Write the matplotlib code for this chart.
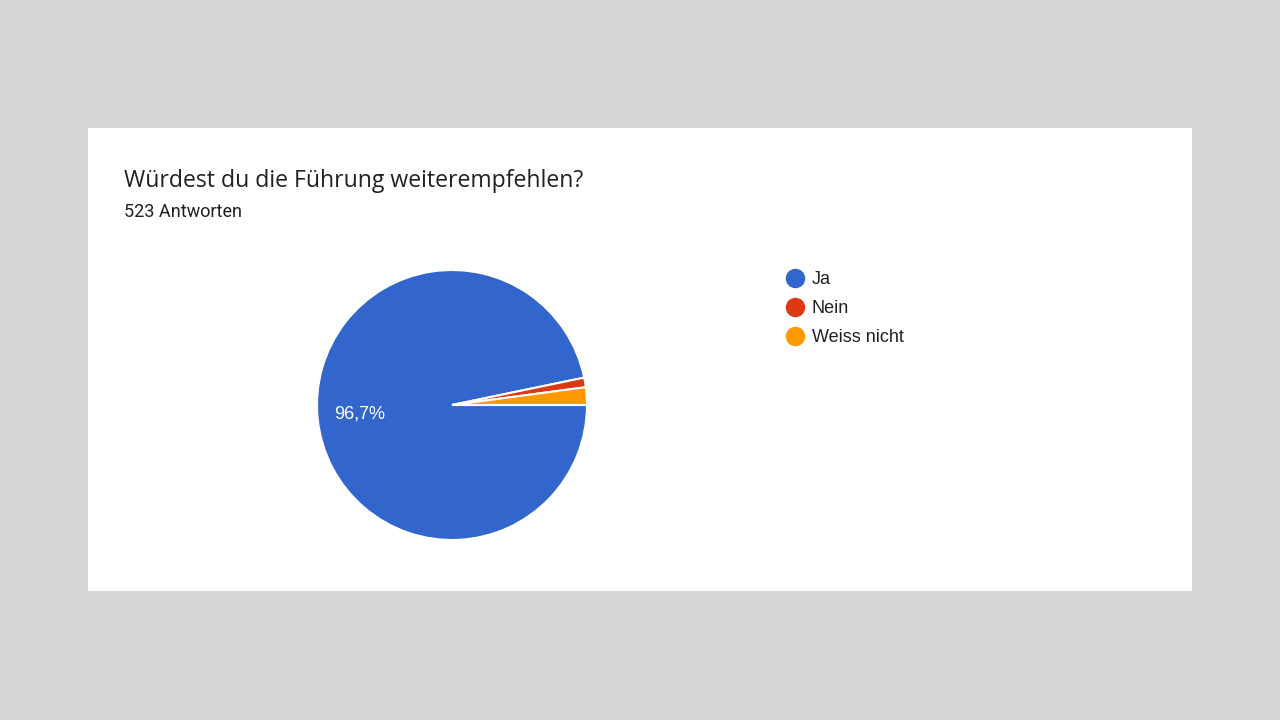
import matplotlib
matplotlib.use("Agg")
import matplotlib.pyplot as plt
from matplotlib.patches import Rectangle
from matplotlib.lines import Line2D

categories = ["Ja", "Nein", "Weiss nicht"]
counts = [506, 6, 11]
colors = ["#3366cc", "#dc3912", "#ff9900"]
title = "Würdest du die Führung weiterempfehlen?"
subtitle = "523 Antworten"

W, H = 1280, 720
fig = plt.figure(figsize=(W / 100, H / 100), dpi=100, facecolor="#d6d6d6")
plt.rcParams["font.family"] = ["Roboto", "DejaVu Sans"]

# white card
fig.patches.append(Rectangle((88 / W, 1 - 591 / H), (1192 - 88) / W, (591 - 128) / H,
                             transform=fig.transFigure, facecolor="white", edgecolor="none", zorder=0))

fig.text(124 / W, 1 - 181 / H, title, fontsize=16.6, color="#202124", va="center", ha="left",
         family=["Open Sans", "DejaVu Sans"], zorder=3)
fig.text(124 / W, 1 - 212 / H, subtitle, fontsize=13, color="#202124", va="center", ha="left", zorder=3)

cx, cy, r = 452, 405, 135
ax = fig.add_axes([(cx - r) / W, (H - cy - r) / H, 2 * r / W, 2 * r / H], zorder=2)
ax.patch.set_alpha(0)


def fmt(p):
    return f"{p:.1f}".replace(".", ",") + "%" if p > 5 else ""


wedges, texts, autotexts = ax.pie(counts, colors=colors, startangle=0, counterclock=False,
                                  autopct=fmt, pctdistance=0.69,
                                  wedgeprops=dict(edgecolor="white", linewidth=1.5),
                                  textprops=dict(color="white", fontsize=13,
                                                 family=["Liberation Sans", "DejaVu Sans"]))
ax.set_xlim(-1, 1)
ax.set_ylim(-1, 1)
ax.set_aspect("equal")
ax.axis("off")

handles = [Line2D([0], [0], marker="o", color="none", markerfacecolor=c, markeredgecolor=c,
                  markersize=13) for c in colors]
leg = fig.legend(handles, categories, loc="upper left", bbox_to_anchor=(781 / W, 1 - 271 / H),
                 frameon=False, handletextpad=0.2, labelspacing=0.66,
                 handlelength=1.5, borderaxespad=0, borderpad=0, labelcolor="#202124",
                 prop=dict(family=["Liberation Sans", "DejaVu Sans"], size=13))
leg.set_zorder(3)

fig.savefig("out.png", dpi=100, facecolor=fig.get_facecolor())
